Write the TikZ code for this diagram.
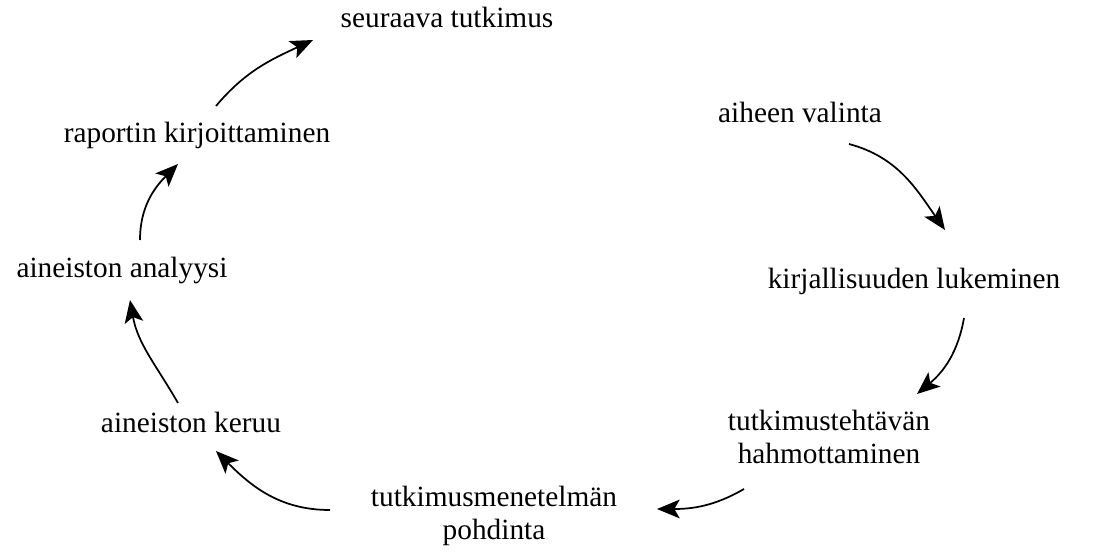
\documentclass[tikz,border=0pt]{standalone}
\usepackage{fontspec}
\setmainfont{Liberation Serif}
\usetikzlibrary{arrows.meta}
\begin{document}
\begin{tikzpicture}[x=0.75pt,y=-0.75pt,
  lbl/.style={anchor=base,inner sep=0pt,font=\fontsize{22}{24.5}\selectfont,align=center},
  arr/.style={line width=1.3pt,-{Stealth[length=17pt,width=14pt,inset=4pt]}}]
\useasboundingbox (0,0) rectangle (1109,552);
\node[lbl] (seur) at (447,28) {seuraava tutkimus};
\node[lbl] (aihe) at (800,123) {aiheen valinta};
\node[lbl] (kirj) at (914,288) {kirjallisuuden lukeminen};
\node[lbl,anchor=north] (teht) at (829,410) {tutkimustehtävän\\hahmottaminen};
\node[lbl,anchor=north] (mene) at (494,486) {tutkimusmenetelmän\\pohdinta};
\node[lbl] (keru) at (191,432) {aineiston keruu};
\node[lbl] (anal) at (122,277) {aineiston analyysi};
\node[lbl] (rapo) at (197,143) {raportin kirjoittaminen};
\coordinate (a1) at (216,106); \coordinate (b1) at (313,40);
\coordinate (a2) at (849,144); \coordinate (b2) at (945,230);
\coordinate (a3) at (964,318); \coordinate (b3) at (917,394);
\coordinate (a4) at (744,489); \coordinate (b4) at (657,509);
\coordinate (a5) at (330,510); \coordinate (b5) at (216,451);
\coordinate (a6) at (178,403); \coordinate (b6) at (130,300);
\coordinate (a7) at (140,240); \coordinate (b7) at (178,164);
\draw[arr] (a1) to[out=50,in=205] (b1);
\draw[arr] (a2) to[out=-15,in=125] (b2);
\draw[arr] (a3) to[out=-100,in=40] (b3);
\draw[arr] (a4) to[out=-150,in=0] (b4);
\draw[arr] (a5) to[out=180,in=-45] (b5);
\draw[arr] (a6) to[out=120,in=-80] (b6);
\draw[arr] (a7) to[out=90,in=-135] (b7);
\end{tikzpicture}
\end{document}
